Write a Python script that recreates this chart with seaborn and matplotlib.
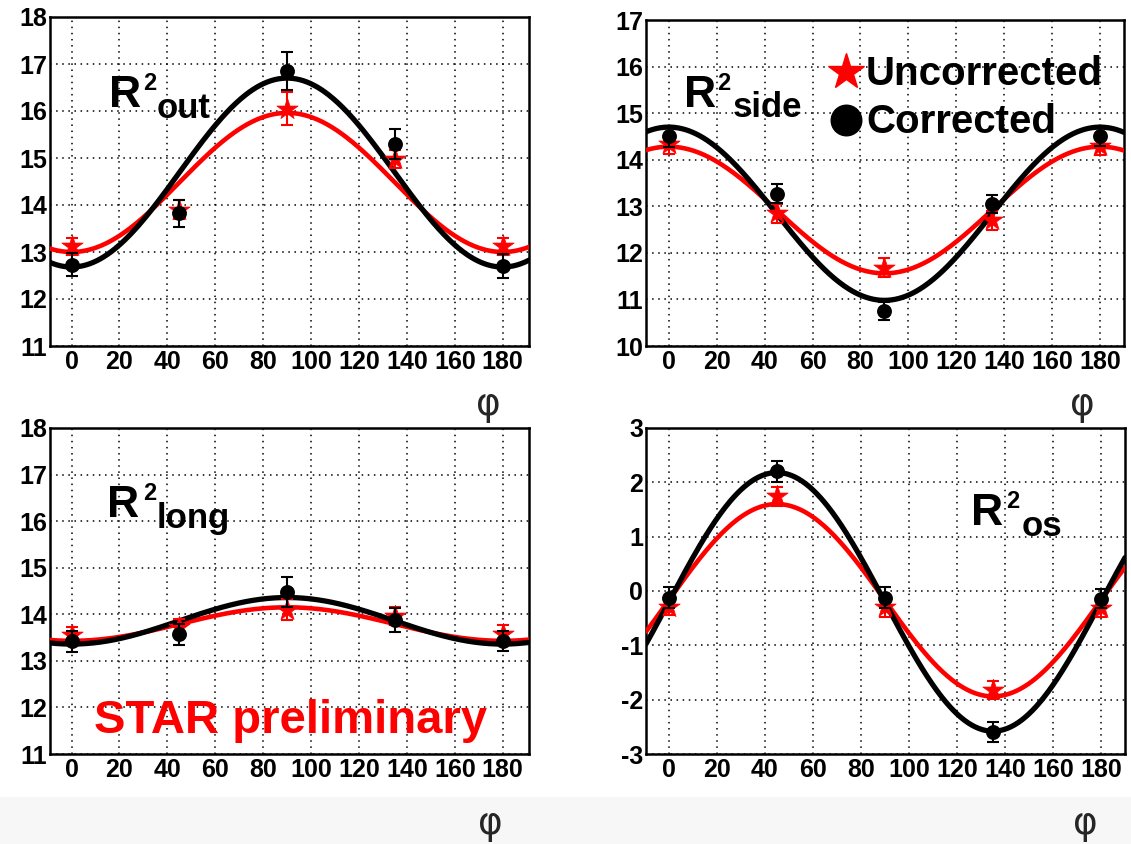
import numpy as np
import pandas as pd
import matplotlib
matplotlib.use("Agg")
import matplotlib.pyplot as plt
from matplotlib.lines import Line2D
from matplotlib.patches import Rectangle
from matplotlib.ticker import MultipleLocator
import seaborn as sns

# ---------------- data ----------------
phi = [0, 45, 90, 135, 180]

out_corr = [12.73, 13.82, 16.85, 15.30, 12.70]
out_corr_err = [0.25, 0.28, 0.40, 0.32, 0.25]
out_unc = [13.12, 13.90, 16.05, 14.98, 13.12]
out_unc_err = [0.18, 0.20, 0.35, 0.20, 0.18]

side_corr = [14.50, 13.27, 10.75, 13.05, 14.50]
side_corr_err = [0.22, 0.20, 0.20, 0.20, 0.20]
side_unc = [14.33, 12.85, 11.68, 12.70, 14.30]
side_unc_err = [0.20, 0.20, 0.20, 0.20, 0.20]

long_corr = [13.42, 13.57, 14.48, 13.88, 13.43]
long_corr_err = [0.22, 0.22, 0.32, 0.25, 0.22]
long_unc = [13.55, 13.72, 14.10, 13.96, 13.58]
long_unc_err = [0.18, 0.18, 0.22, 0.20, 0.18]

os_corr = [-0.12, 2.20, -0.12, -2.60, -0.14]
os_corr_err = [0.20, 0.20, 0.20, 0.18, 0.18]
os_unc = [-0.30, 1.74, -0.30, -1.82, -0.32]
os_unc_err = [0.15, 0.17, 0.17, 0.17, 0.15]

# fit parameters: mean, cos(2phi) amplitude, sin(2phi) amplitude
out_fit_corr = [14.69, -2.01, 0.0]
out_fit_unc = [14.48, -1.48, 0.0]
side_fit_corr = [12.84, 1.86, 0.0]
side_fit_unc = [12.92, 1.36, 0.0]
long_fit_corr = [13.86, -0.50, 0.0]
long_fit_unc = [13.79, -0.36, 0.0]
os_fit_corr = [-0.20, 0.0, 2.38]
os_fit_unc = [-0.17, 0.0, 1.77]

panel_names = ["out", "side", "long", "os"]
y_limits = [(11, 18), (10, 17), (11, 18), (-3, 3)]
x_ticks = [0, 20, 40, 60, 80, 100, 120, 140, 160, 180]
legend_labels = ["Uncorrected", "Corrected"]
watermark = "STAR preliminary"
x_label = "φ"

# ---------------- style ----------------
sns.set_style("white")
plt.rcParams["font.family"] = ["Liberation Sans", "DejaVu Sans"]
plt.rcParams["axes.unicode_minus"] = False

W, H = 1131, 844
fig = plt.figure(figsize=(W / 100, H / 100), dpi=100)
fig.patch.set_facecolor("white")

# faint gray band at the bottom (slide background)
fig.add_artist(Rectangle((0, 0), 1, 1 - 797 / H, transform=fig.transFigure,
                         facecolor="#f7f7f7", edgecolor="none", zorder=-10))


def rect(l, t, r, b):
    return [l / W, 1 - b / H, (r - l) / W, (b - t) / H]


def ftext(x, y, s, size, color="black", ha="left", va="baseline", family=None):
    kw = {}
    if family is not None:
        kw["family"] = family
    fig.text(x / W, 1 - y / H, s, fontsize=size, fontweight="bold", color=color,
             ha=ha, va=va, **kw)


axes_px = [(50, 17, 529, 346), (646, 20, 1124, 346),
           (50, 428, 529, 754), (646, 428, 1125, 754)]
x_limits = [(-9, 191), (-9.5, 190), (-9, 191), (-9.5, 190)]

panels = [
    (out_corr, out_corr_err, out_unc, out_unc_err, out_fit_corr, out_fit_unc),
    (side_corr, side_corr_err, side_unc, side_unc_err, side_fit_corr, side_fit_unc),
    (long_corr, long_corr_err, long_unc, long_unc_err, long_fit_corr, long_fit_unc),
    (os_corr, os_corr_err, os_unc, os_unc_err, os_fit_corr, os_fit_unc),
]

RED = "#ff0000"

for i, (c, ce, u, ue, fc, fu) in enumerate(panels):
    ax = fig.add_axes(rect(*axes_px[i]))
    xlo, xhi = x_limits[i]
    xs = np.linspace(xlo, xhi, 400)
    rad = np.deg2rad(2 * xs)
    curve_u = fu[0] + fu[1] * np.cos(rad) + fu[2] * np.sin(rad)
    curve_c = fc[0] + fc[1] * np.cos(rad) + fc[2] * np.sin(rad)

    sns.lineplot(x=xs, y=curve_u, ax=ax, color=RED, lw=3.3, zorder=3)
    sns.lineplot(x=xs, y=curve_c, ax=ax, color="black", lw=3.8, zorder=4)

    ax.errorbar(phi, u, yerr=ue, fmt="none", ecolor=RED, elinewidth=1.5,
                capsize=4, capthick=1.5, zorder=5)
    sns.scatterplot(x=phi, y=u, ax=ax, marker="*", s=260, color=RED,
                    edgecolor=RED, linewidth=0.5, zorder=6)
    ax.errorbar(phi, c, yerr=ce, fmt="none", ecolor="black", elinewidth=1.5,
                capsize=4, capthick=1.5, zorder=7)
    sns.scatterplot(x=phi, y=c, ax=ax, marker="o", s=115, color="black",
                    edgecolor="black", linewidth=0, zorder=8)

    ax.set_xlim(xlo, xhi)
    ax.set_ylim(*y_limits[i])
    ax.set_xticks(x_ticks)
    ax.xaxis.set_minor_locator(MultipleLocator(5))
    ax.yaxis.set_major_locator(MultipleLocator(1))
    ax.yaxis.set_minor_locator(MultipleLocator(0.2))
    ax.tick_params(axis="both", which="major", direction="in", length=10,
                   width=1.6, labelsize=18, pad=3, top=False, right=False,
                   colors="black")
    ax.tick_params(axis="both", which="minor", direction="in", length=6,
                   width=1.4, top=False, right=False)
    ax.tick_params(axis="y", which="major", length=15, pad=2)
    for lab in ax.get_xticklabels() + ax.get_yticklabels():
        lab.set_fontweight("bold")
    ax.grid(True, which="major", color="black", lw=1.1, ls=(0, (1, 3)))
    for sp in ax.spines.values():
        sp.set_linewidth(1.8)
        sp.set_color("black")
    ax.set_xlabel("")
    ax.set_ylabel("")
    ax.set_facecolor("white")
    if ax.get_legend() is not None:
        ax.get_legend().remove()

# ---------------- panel labels ----------------
label_pos = [  # R left, R baseline, '2' left, '2' baseline, sub left, sub baseline
    (109, 107, 143, 90, 157, 118),
    (684, 107, 717, 90, 733, 117),
    (107, 517, 143, 500, 157, 528),
    (971, 525, 1006, 508, 1022, 536),
]
for name, (rx, ry, sx, sy, bx, by) in zip(panel_names, label_pos):
    ftext(rx, ry, "R", 32)
    ftext(sx, sy, "2", 17)
    ftext(bx, by, name, 25)

# phi axis labels
for (px, py) in [(488, 405), (1082, 405), (490, 824), (1085, 824)]:
    fig.text(px / W, 1 - py / H, x_label, fontsize=27, ha="center", va="center",
             family=["DejaVu Sans"])

# STAR preliminary
ftext(94, 733, watermark, 34, color=RED)

# legend in panel 2
fig.add_artist(Line2D([846 / W], [1 - 72 / H], transform=fig.transFigure,
                      marker="*", ms=27, color=RED, ls="none"))
fig.add_artist(Line2D([846 / W], [1 - 120 / H], transform=fig.transFigure,
                      marker="o", ms=22, color="black", ls="none"))
ftext(866, 85, legend_labels[0], 29)
ftext(866, 133, legend_labels[1], 29)

fig.savefig("out.png", dpi=100, facecolor="white")
